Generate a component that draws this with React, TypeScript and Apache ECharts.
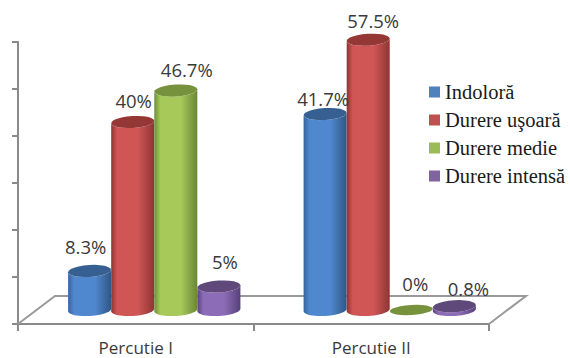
import React, { useEffect, useRef } from "react";
import * as echarts from "echarts";

const categories = ["Percutie I", "Percutie II"];
const seriesNames = ["Indoloră", "Durere uşoară", "Durere medie", "Durere intensă"];
const indolora = [8.3, 41.7];
const durereUsoara = [40, 57.5];
const durereMedie = [46.7, 0];
const durereIntensa = [5, 0.8];
const seriesValues = [indolora, durereUsoara, durereMedie, durereIntensa];

const legendColors = ["#4f81bd", "#c0504d", "#9bbb59", "#8064a2"];
// edge, centre and far edge of each cylinder wall, then its darker cap
const wallShades = [
  ["#36659c", "#5088cf", "#2d5886"],
  ["#8e3431", "#d05656", "#8f3533"],
  ["#6f8f3a", "#a6c95a", "#6a8637"],
  ["#5c4480", "#8c6cb6", "#56407a"],
];
const capColors = ["#376092", "#953735", "#76923c", "#5f497a"];

// Nudges of each value label from its cylinder's cap: [dx, dy] by category
const labelNudges = [
  [[-4, -24], [-2, -16]],
  [[1, -22], [5, -19]],
  [[11, -21], [4, -27]],
  [[6, -25], [14, -18]],
];

const DEPTH_X = 37;
const DEPTH_Y = 28;
const SLOT_SHARE = 0.183;
const CAP_RY = 6;
const CAP_TILT = 0.06;

function arcPoints(cx: number, cy: number, rx: number, ry: number, from: number, to: number) {
  const pts: number[][] = [];
  const steps = 24;
  for (let i = 0; i <= steps; i++) {
    const t = from + ((to - from) * i) / steps;
    const ex = rx * Math.cos(t);
    const ey = ry * Math.sin(t);
    pts.push([
      cx + ex * Math.cos(CAP_TILT) + ey * Math.sin(CAP_TILT),
      cy - ex * Math.sin(CAP_TILT) + ey * Math.cos(CAP_TILT),
    ]);
  }
  return pts;
}

function renderCylinder(params: any, api: any) {
  const s = params.seriesIndex - 1;
  const cat = api.value(0);
  const value = api.value(1);
  const [cx] = api.coord([cat, 0]);
  const zeroY = api.coord([cat, 0])[1];
  const valueY = api.coord([cat, value])[1];
  const slot = api.size([1, 0])[0] * SLOT_SHARE;
  const x = cx + (s - 1.5) * slot + DEPTH_X / 2;
  const rx = slot / 2;
  const baseY = zeroY - DEPTH_Y / 2;
  const topY = baseY - (zeroY - valueY);
  const shades = wallShades[s];
  const children: any[] = [];

  if (value > 0) {
    // Wall: the lower half of the base ellipse joined to the cap's centre line
    const wall = [
      ...arcPoints(x, baseY, rx, CAP_RY, 0, Math.PI),
      ...arcPoints(x, topY, rx, CAP_RY, Math.PI, 0),
    ];
    children.push({
      type: "polygon",
      z2: s + 1,
      shape: { points: wall },
      style: {
        fill: new echarts.graphic.LinearGradient(0, 0, 1, 0, [
          { offset: 0, color: shades[0] },
          { offset: 0.14, color: shades[1] },
          { offset: 0.62, color: shades[1] },
          { offset: 1, color: shades[2] },
        ]),
      },
    });
  }
  children.push({
    type: "polygon",
    z2: s + 1,
    shape: { points: arcPoints(x, topY, rx, value > 0 ? CAP_RY : CAP_RY - 1, 0, Math.PI * 2) },
    style: { fill: capColors[s] },
  });
  const [dx, dy] = labelNudges[s][cat];
  children.push({
    type: "text",
    z2: 20,
    style: {
      x: x + dx,
      y: topY + dy,
      text: `${value}%`,
      align: "center",
      verticalAlign: "middle",
      fontFamily: "Open Sans",
      fontSize: 18.5,
      fill: "#3a3a3a",
    },
  });
  return { type: "group", children };
}

function renderFloor(params: any, api: any) {
  const { x, y, width, height } = params.coordSys;
  const fx = x;
  const fy = y + height;
  return {
    type: "polyline",
    shape: {
      points: [
        [fx, fy],
        [fx + DEPTH_X, fy - DEPTH_Y],
        [fx + width + DEPTH_X, fy - DEPTH_Y],
        [fx + width, fy],
      ],
    },
    style: { fill: "none", stroke: "#9a9a9a", lineWidth: 2 },
  };
}

export default function App() {
  const ref = useRef<HTMLDivElement>(null);

  useEffect(() => {
    document.body.style.margin = "0";
    const chart = echarts.init(ref.current!, undefined, { renderer: "svg" });
    chart.setOption({
      animation: false,
      backgroundColor: "#ffffff",
      grid: { left: 18, top: 42, width: 471, height: 282 },
      xAxis: {
        type: "category",
        data: categories,
        axisLine: { lineStyle: { color: "#8a8a8a", width: 2 } },
        axisTick: { show: true, length: 7, lineStyle: { color: "#8a8a8a", width: 2 } },
        axisLabel: { fontFamily: "Open Sans", fontSize: 17, lineHeight: 17, color: "#3a3a3a", margin: 15 },
      },
      yAxis: {
        type: "value",
        min: 0,
        max: 60,
        interval: 10,
        axisLine: { show: true, lineStyle: { color: "#8a8a8a", width: 2 } },
        axisTick: { show: true, length: 6, lineStyle: { color: "#8a8a8a", width: 2 } },
        axisLabel: { show: false },
        splitLine: { show: false },
      },
      legend: {
        orient: "vertical",
        left: 429,
        top: 81,
        padding: 0,
        itemWidth: 11,
        itemHeight: 11,
        itemGap: 6,
        icon: "rect",
        data: seriesNames,
        textStyle: {
          fontFamily: "Liberation Serif",
          fontSize: 20.5,
          lineHeight: 22,
          color: "#1a1a1a",
        },
      },
      series: [
        {
          type: "custom",
          name: "podea",
          z: 1,
          silent: true,
          renderItem: renderFloor,
          data: [[0, 0]],
        },
        ...seriesNames.map((name, i) => ({
          type: "custom",
          name,
          z: 2,
          clip: false,
          renderItem: renderCylinder,
          encode: { x: 0, y: 1 },
          itemStyle: { color: legendColors[i] },
          data: seriesValues[i].map((v, c) => [c, v]),
        })),
      ],
    });
    return () => chart.dispose();
  }, []);

  return <div ref={ref} style={{ width: 570, height: 358 }} />;
}
